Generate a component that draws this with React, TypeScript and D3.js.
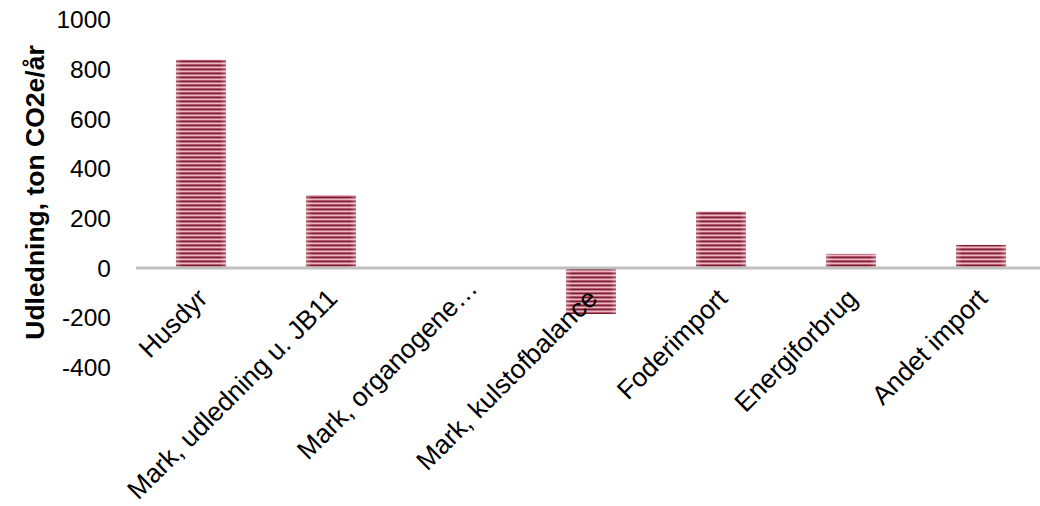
import React from "react";
import * as d3 from "d3";

const categories = [
  "Husdyr",
  "Mark, udledning u. JB11",
  "Mark, organogene…",
  "Mark, kulstofbalance",
  "Foderimport",
  "Energiforbrug",
  "Andet import",
];
const values = [838, 294, 0, -185, 228, 57, 93];
const yTicks = [-400, -200, 0, 200, 400, 600, 800, 1000];
const yTitle = "Udledning, ton CO2e/år";

const W = 1040;
const H = 506;

export default function App() {
  const x = d3
    .scaleBand<string>()
    .domain(categories)
    .range([136, 1046])
    .paddingInner(0.615)
    .paddingOuter(0.3075);
  const y = d3.scaleLinear().domain([-400, 1000]).range([367.5, 19.5]);
  const font = "'Liberation Sans', Arial, sans-serif";
  const y0 = y(0);

  return (
    <div style={{ position: "absolute", left: 0, top: 0 }}>
      <svg width={W} height={H} style={{ display: "block" }}>
        <defs>
          <pattern id="stripes" width="8" height="4" patternUnits="userSpaceOnUse">
            <rect x="0" y="0" width="8" height="4" fill="#eeb3c0" />
            <rect x="0" y="0" width="8" height="1" fill="#b45a6e" />
            <rect x="0" y="1" width="8" height="1.4" fill="#7c1c31" />
            <rect x="0" y="2.4" width="8" height="0.6" fill="#c27a8b" />
          </pattern>
          <linearGradient id="shade" x1="0" x2="1" y1="0" y2="0">
            <stop offset="0" stopColor="#ffffff" stopOpacity="0.3" />
            <stop offset="0.12" stopColor="#ffffff" stopOpacity="0" />
            <stop offset="0.88" stopColor="#ffffff" stopOpacity="0" />
            <stop offset="1" stopColor="#ffffff" stopOpacity="0.3" />
          </linearGradient>
        </defs>
        <rect width={W} height={H} fill="#ffffff" />

        {yTicks.map((t) => (
          <text
            key={t}
            x={111}
            y={y(t)}
            dy="0.35em"
            textAnchor="end"
            fontFamily={font}
            fontSize={24.5}
            fill="#000"
          >
            {t}
          </text>
        ))}

        <text
          transform={`translate(35, ${192.5}) rotate(-90)`}
          textAnchor="middle"
          dy="0.35em"
          fontFamily={font}
          fontSize={26.5}
          fontWeight="bold"
          fill="#000"
        >
          {yTitle}
        </text>

        {categories.map((c, i) => {
          const v = values[i];
          if (v === 0) return null;
          const top = Math.min(y(v), y0);
          const h = Math.abs(y(v) - y0);
          return (
            <g key={c}>
              <rect x={x(c)} y={top} width={x.bandwidth()} height={h} fill="url(#stripes)" />
              <rect x={x(c)} y={top} width={x.bandwidth()} height={h} fill="url(#shade)" />
            </g>
          );
        })}

        <line x1={136} x2={W} y1={y0} y2={y0} stroke="#bfbfbf" strokeWidth={3} />

        {categories.map((c) => {
          const cx = (x(c) as number) + x.bandwidth() / 2;
          const truncated = c.endsWith("…");
          return (
            <text
              key={c}
              transform={`translate(${cx + 8}, ${300}) rotate(-45)`}
              textAnchor="end"
              dx={truncated ? 14 : 0}
              fontFamily={font}
              fontSize={26.5}
              fill="#000"
            >
              {c}
            </text>
          );
        })}
      </svg>
    </div>
  );
}
